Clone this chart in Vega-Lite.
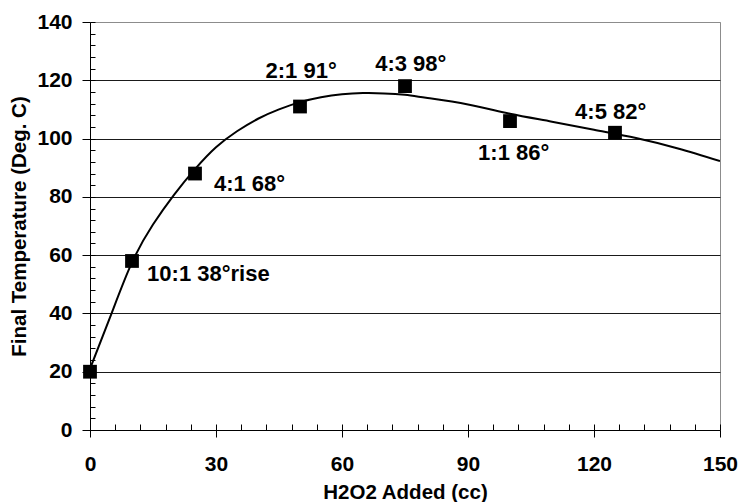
{
  "$schema": "https://vega.github.io/schema/vega-lite/v6.json",
  "width": 630,
  "height": 408,
  "autosize": {"type": "none"},
  "padding": {"left": 90, "top": 22, "right": 20, "bottom": 72},
  "background": "white",
  "config": {
    "view": {"stroke": "#8c8c8c", "strokeWidth": 1},
    "font": "Liberation Sans",
    "axis": {
      "labelFont": "Liberation Sans",
      "titleFont": "Liberation Sans",
      "labelFontWeight": "bold",
      "titleFontWeight": "bold",
      "labelFontSize": 21,
      "titleFontSize": 20.5,
      "labelColor": "black",
      "titleColor": "black",
      "domainColor": "black",
      "tickColor": "black",
      "domainWidth": 1,
      "tickWidth": 1
    }
  },
  "datasets": {
    "points": [
      {"h2o2": 0, "temp": 20},
      {"h2o2": 10, "temp": 58},
      {"h2o2": 25, "temp": 88},
      {"h2o2": 50, "temp": 111},
      {"h2o2": 75, "temp": 118},
      {"h2o2": 100, "temp": 106},
      {"h2o2": 125, "temp": 102}
    ],
    "trend": [
      {"h2o2": 0, "temp": 21},
      {"h2o2": 5, "temp": 39.5},
      {"h2o2": 10, "temp": 57.5},
      {"h2o2": 15, "temp": 70.5},
      {"h2o2": 20, "temp": 80.7},
      {"h2o2": 25, "temp": 89.5},
      {"h2o2": 30, "temp": 97},
      {"h2o2": 35, "temp": 102.5},
      {"h2o2": 40, "temp": 106.8},
      {"h2o2": 45, "temp": 110},
      {"h2o2": 50, "temp": 112.5},
      {"h2o2": 55, "temp": 114.2},
      {"h2o2": 60, "temp": 115.2},
      {"h2o2": 65, "temp": 115.6},
      {"h2o2": 70, "temp": 115.5},
      {"h2o2": 75, "temp": 115},
      {"h2o2": 80, "temp": 114},
      {"h2o2": 90, "temp": 111.7},
      {"h2o2": 100, "temp": 108.5},
      {"h2o2": 110, "temp": 105.8},
      {"h2o2": 120, "temp": 103},
      {"h2o2": 130, "temp": 100.2},
      {"h2o2": 140, "temp": 96.6},
      {"h2o2": 150, "temp": 92.3}
    ],
    "notes": [
      {"h2o2": 13.6, "temp": 53.8, "label": "10:1 38°rise"},
      {"h2o2": 29.5, "temp": 84.7, "label": "4:1 68°"},
      {"h2o2": 41.8, "temp": 123.5, "label": "2:1 91°"},
      {"h2o2": 67.9, "temp": 125.9, "label": "4:3 98°"},
      {"h2o2": 92.4, "temp": 95.5, "label": "1:1 86°"},
      {"h2o2": 115.5, "temp": 109.3, "label": "4:5 82°"}
    ]
  },
  "resolve": {"axis": {"x": "independent", "y": "independent"}},
  "layer": [
    {
      "data": {"name": "trend"},
      "mark": {"type": "line", "color": "black", "strokeWidth": 2, "interpolate": "natural", "clip": true},
      "encoding": {
        "x": {
          "field": "h2o2", "type": "quantitative",
          "scale": {"domain": [0, 150], "nice": false, "zero": false},
          "axis": {
            "orient": "bottom",
            "values": [0, 30, 60, 90, 120, 150],
            "title": "H2O2 Added (cc)",
            "tickSize": 7,
            "labelPadding": 16,
            "titlePadding": 8,
            "grid": false,
            "labelOverlap": false,
            "labelFlush": false
          }
        },
        "y": {
          "field": "temp", "type": "quantitative",
          "scale": {"domain": [0, 140], "nice": false, "zero": false},
          "axis": {
            "orient": "left",
            "values": [0, 20, 40, 60, 80, 100, 120, 140],
            "title": "Final Temperature (Deg. C)",
            "tickSize": 8,
            "labelPadding": 10,
            "titlePadding": 7,
            "grid": true,
            "gridColor": {"condition": {"test": "datum.value == 140 || datum.value == 0", "value": "#8c8c8c"}, "value": "#1a1a1a"},
            "gridWidth": 1,
            "labelOverlap": false,
            "labelFlush": false
          }
        }
      }
    },
    {
      "data": {"name": "points"},
      "mark": {"type": "point", "shape": "square", "filled": true, "color": "black", "opacity": 1, "size": 190},
      "encoding": {
        "x": {
          "field": "h2o2", "type": "quantitative",
          "axis": {
            "orient": "bottom",
            "values": [0, 6, 12, 18, 24, 30, 36, 42, 48, 54, 60, 66, 72, 78, 84, 90, 96, 102, 108, 114, 120, 126, 132, 138, 144, 150],
            "labels": false, "title": null, "domain": false, "grid": false,
            "tickSize": -6
          }
        },
        "y": {
          "field": "temp", "type": "quantitative",
          "axis": {
            "orient": "left",
            "values": [0, 4, 8, 12, 16, 20, 24, 28, 32, 36, 40, 44, 48, 52, 56, 60, 64, 68, 72, 76, 80, 84, 88, 92, 96, 100, 104, 108, 112, 116, 120, 124, 128, 132, 136, 140],
            "labels": false, "title": null, "domain": false, "grid": false,
            "tickSize": -5
          }
        }
      }
    },
    {
      "data": {"name": "notes"},
      "mark": {"type": "text", "align": "left", "baseline": "middle", "font": "Liberation Sans", "fontWeight": "bold", "fontSize": 22, "color": "black", "dy": 1},
      "encoding": {
        "x": {"field": "h2o2", "type": "quantitative", "axis": null},
        "y": {"field": "temp", "type": "quantitative", "axis": null},
        "text": {"field": "label", "type": "nominal"}
      }
    }
  ]
}
